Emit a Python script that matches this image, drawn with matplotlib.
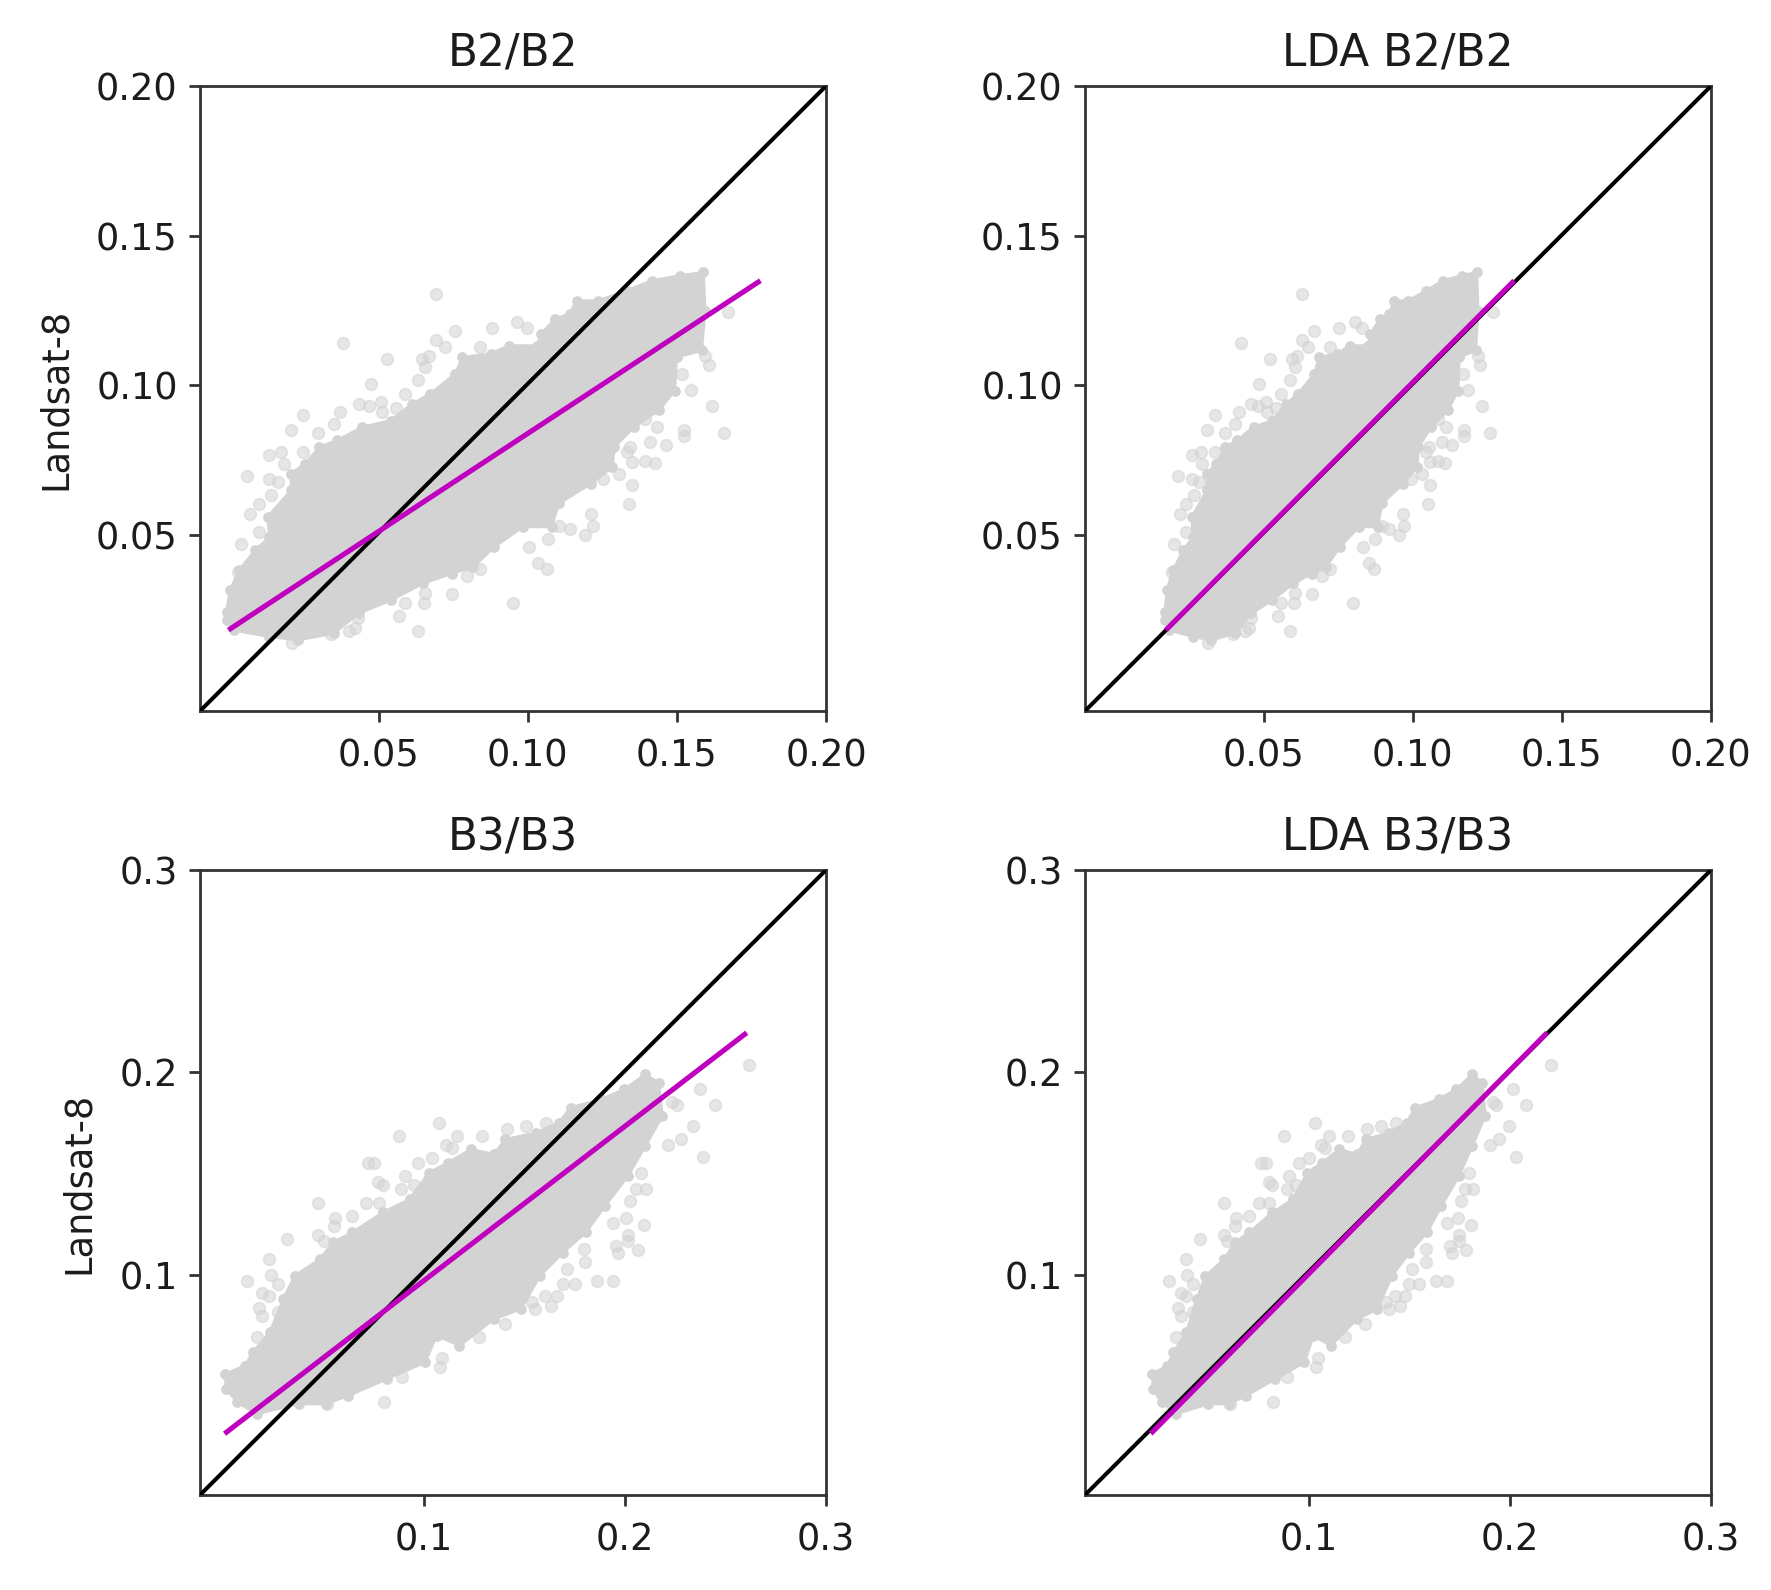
import matplotlib
matplotlib.use("Agg")
import matplotlib.pyplot as plt

# values: body of each grey cloud as an outline, stray points separately
b2_y_outline = [.0244,.0317,.0383,.0450,.0494,.0561,.0650,.0706,.0739,.0794,.0817,.0861,.0883,.0939,.0972,.1039,.1094,.1106,.1133,.1133,.1172,.1222,.1239,.1283,.1283,.1317,.1350,.1367,.1378,.1250,.1117,.1094,.0983,.0917,.0861,.0794,.0728,.0672,.0606,.0528,.0528,.0461,.0394,.0372,.0339,.0283,.0239,.0172,.0150,.0161,.0183,.0217]
b2_x_outline = [-.0010,.0002,.0032,.0086,.0134,.0128,.0206,.0206,.0254,.0301,.0361,.0445,.0541,.0613,.0673,.0757,.0781,.0876,.0936,.1032,.1044,.1092,.1140,.1164,.1236,.1332,.1416,.1511,.1589,.1595,.1583,.1499,.1493,.1440,.1356,.1290,.1284,.1212,.1104,.1080,.0984,.0888,.0817,.0745,.0649,.0541,.0433,.0349,.0230,.0134,.0014,-.0010]
lda2_x_outline = [.0169,.0176,.0196,.0231,.0263,.0259,.0310,.0310,.0341,.0372,.0412,.0466,.0529,.0576,.0615,.0670,.0686,.0748,.0788,.0850,.0858,.0890,.0921,.0937,.0984,.1046,.1101,.1164,.1215,.1219,.1211,.1156,.1152,.1117,.1062,.1019,.1015,.0968,.0897,.0882,.0819,.0756,.0709,.0662,.0600,.0529,.0459,.0404,.0325,.0263,.0184,.0169]

b2_y_stray = [.1306,.1141,.1089,.1182,.1192,.1212,.1192,.1152,.1130,.1089,.1100,.1061,.1006,.1017,.0972,.0939,.0933,.0944,.0913,.0903,.0852,.0911,.0926,.0872,.0841,.0778,.0768,.0739,.0778,.0697,.0687,.0677,.0633,.0603,.0572,.0511,.0470,.0378,.1128,
              .1067,.0933,.0841,.1244,.1100,.1037,.0986,.0850,.0830,.0800,.0811,.0861,.0889,.0794,.0778,.0744,.0748,.0741,.0703,.0687,.0666,.0603,.0572,.0531,.0500,.0522,.0530,.0489,.0459,.0408,.0386,.0272,.0386,.0364,.0303,.0272,.0306,.0272,.0231,.0180,.0222,.0189,.0180,.0170,.0141]
b2_x_stray = [.0692,.0381,.0527,.0755,.0880,.0963,.0999,.0692,.0723,.0644,.0670,.0655,.0475,.0631,.0587,.0433,.0466,.0508,.0370,.0245,.0206,.0511,.0557,.0349,.0298,.0173,.0131,.0182,.0248,.0060,.0131,.0163,.0140,.0100,.0069,.0100,.0038,.0028,.0839,
              .1608,.1618,.1658,.1672,.1595,.1518,.1546,.1524,.1524,.1464,.1410,.1434,.1392,.1344,.1332,.1350,.1392,.1426,.1306,.1251,.1348,.1338,.1212,.1218,.1191,.1141,.1105,.1069,.1005,.1036,.1063,.0952,.0839,.0797,.0745,.0652,.0655,.0587,.0568,.0631,.0430,.0422,.0400,.0340,.0208]
lda2_x_stray = [.0628,.0424,.0520,.0669,.0751,.0805,.0829,.0628,.0648,.0596,.0613,.0604,.0486,.0588,.0559,.0459,.0480,.0507,.0417,.0336,.0310,.0510,.0540,.0404,.0370,.0289,.0261,.0294,.0337,.0214,.0261,.0282,.0267,.0241,.0220,.0241,.0200,.0194,.0723,
                .1227,.1233,.1260,.1268,.1219,.1168,.1186,.1172,.1172,.1133,.1098,.1113,.1086,.1055,.1046,.1059,.1086,.1108,.1030,.0993,.1057,.1051,.0968,.0972,.0954,.0921,.0898,.0874,.0833,.0853,.0870,.0798,.0723,.0696,.0663,.0602,.0604,.0559,.0547,.0588,.0457,.0451,.0437,.0398,.0312]

b3_y_outline = [.0510,.0551,.0617,.0716,.0880,.0995,.1077,.1160,.1209,.1308,.1373,.1505,.1554,.1620,.1595,.1669,.1702,.1752,.1826,.1867,.1916,.1990,.1949,.1784,.1636,.1488,.1340,.1209,.1110,.0995,.0831,.0781,.0650,.0699,.0567,.0485,.0403,.0362,.0362,.0313,.0370,.0436]
b3_x_outline = [.0013,.0112,.0150,.0235,.0302,.0359,.0483,.0550,.0645,.0797,.0930,.1026,.1121,.1235,.1349,.1406,.1559,.1673,.1730,.1882,.1997,.2101,.2168,.2187,.2101,.2016,.1901,.1806,.1692,.1578,.1483,.1349,.1178,.1064,.1007,.0816,.0626,.0512,.0378,.0169,.0074,.0017]
lda3_x_outline = [.0223,.0298,.0327,.0392,.0443,.0487,.0581,.0632,.0704,.0820,.0921,.0994,.1066,.1153,.1240,.1284,.1400,.1487,.1530,.1646,.1733,.1813,.1863,.1878,.1813,.1747,.1660,.1588,.1501,.1414,.1342,.1240,.1110,.1023,.0979,.0834,.0690,.0603,.0501,.0342,.0269,.0226]

b3_y_stray = [.1748,.1687,.1687,.1687,.1719,.1733,.1748,.1643,.1628,.1551,.1551,.1551,.1579,.1488,.1459,.1444,.1444,.1423,.1354,.1354,.1354,.1283,.1291,.1242,.1179,.1196,.1168,.1077,.1000,.0970,.0954,.0910,.0896,.0834,.0817,.0798,.0694,
              .2039,.1919,.1840,.1840,.1853,.1735,.1643,.1673,.1582,.1505,.1423,.1423,.1365,.1283,.1258,.1245,.1196,.1168,.1140,.1107,.1123,.1127,.1061,.1031,.0954,.0954,.0970,.0970,.0896,.0896,.0847,.0864,.0831,.0757,.0694,.0587,.0543,.0494,.0373,.0362]
b3_x_stray = [.1077,.0875,.1168,.1292,.1416,.1507,.1606,.1111,.1140,.0721,.0753,.0972,.1039,.0908,.0772,.0797,.0953,.0889,.0477,.0711,.0778,.0559,.0645,.0553,.0321,.0477,.0502,.0230,.0241,.0121,.0277,.0197,.0230,.0182,.0277,.0197,.0169,
              .2619,.2372,.2450,.2259,.2235,.2339,.2216,.2278,.2387,.2082,.2054,.2107,.2025,.2006,.1940,.2096,.2016,.2016,.1955,.1968,.2063,.1797,.1802,.1711,.1692,.1753,.1863,.1940,.1663,.1601,.1631,.1540,.1555,.1403,.1273,.1092,.1079,.0892,.0801,.0521]
lda3_x_stray = [.1033,.0879,.1103,.1197,.1291,.1360,.1436,.1059,.1081,.0762,.0787,.0953,.1004,.0904,.0801,.0820,.0939,.0890,.0577,.0755,.0805,.0639,.0704,.0635,.0458,.0577,.0595,.0388,.0397,.0306,.0424,.0364,.0388,.0352,.0424,.0364,.0342,
                .2207,.2018,.2078,.1933,.1914,.1994,.1899,.1947,.2030,.1798,.1776,.1817,.1755,.1740,.1689,.1808,.1747,.1747,.1701,.1711,.1784,.1581,.1585,.1515,.1501,.1547,.1631,.1689,.1479,.1431,.1455,.1385,.1397,.1281,.1182,.1045,.1034,.0892,.0823,.0610]

# fitted lines
b2_fit_x = [-.0004, .1780]
b2_fit_y = [.0183, .1350]
lda2_fit_x = [.0172, .1340]
b3_fit_x = [.0010, .2606]
b3_fit_y = [.0215, .2196]
lda3_fit_x = [.0215, .2185]

ticks_top = [0.05, 0.10, 0.15, 0.20]
tick_labels_top = ["0.05", "0.10", "0.15", "0.20"]
ticks_bottom = [0.1, 0.2, 0.3]
tick_labels_bottom = ["0.1", "0.2", "0.3"]

W, H = 1771, 1590
SPINE = "#333333"
TEXT = "#1c1c1c"


def panel(left, top, title, x_out, y_out, x_stray, y_stray, fit_x, fit_y,
          ticks, labels, xlim, ylim, ylabel=None, labelpad=4):
    ax = plt.gcf().add_axes([left / W, 1 - (top + 625) / H, 626 / W, 625 / H])

    ax.fill(x_out, y_out, facecolor="lightgray", edgecolor="lightgray",
            linewidth=2, joinstyle="round", zorder=1)
    # outline points get a marker too, the cloud edge is lumpy
    ax.scatter(x_out, y_out, s=60, c="lightgray", linewidths=0, zorder=1)
    ax.scatter(x_stray, y_stray, s=72, c="lightgray", alpha=0.55, linewidths=1.2, zorder=2)
    ax.plot([xlim[0], xlim[1]], [ylim[0], ylim[1]], color="k", lw=2.9, zorder=3)
    ax.plot(fit_x, fit_y, color="m", lw=3.7, zorder=4, solid_capstyle="butt")

    ax.set_xlim(xlim)
    ax.set_ylim(ylim)
    ax.set_xticks(ticks)
    ax.set_xticklabels(labels)
    ax.set_yticks(ticks)
    ax.set_yticklabels(labels)
    ax.tick_params(length=8, width=2, labelsize=26.5, color=SPINE, labelcolor=TEXT)
    ax.tick_params(axis="x", pad=11)
    ax.tick_params(axis="y", pad=8)
    for s in ax.spines.values():
        s.set_linewidth(2)
        s.set_color(SPINE)
    ax.set_title(title, fontsize=31.5, pad=14, color=TEXT)
    if ylabel:
        ax.set_ylabel(ylabel, fontsize=26.5, color=TEXT, labelpad=labelpad)
    return ax


fig = plt.figure(figsize=(W / 100, H / 100), dpi=100)

lim_top = ((-0.0099, 0.2), (-0.0087, 0.2))
lim_bottom = ((-0.0112, 0.3), (-0.0088, 0.3))

panel(200, 86, "B2/B2", b2_x_outline, b2_y_outline, b2_x_stray, b2_y_stray,
      b2_fit_x, b2_fit_y, ticks_top, tick_labels_top, lim_top[0], lim_top[1], "Landsat-8", 16)
panel(1085, 86, "LDA B2/B2", lda2_x_outline, b2_y_outline, lda2_x_stray, b2_y_stray,
      lda2_fit_x, b2_fit_y, ticks_top, tick_labels_top, lim_top[0], lim_top[1])
panel(200, 870, "B3/B3", b3_x_outline, b3_y_outline, b3_x_stray, b3_y_stray,
      b3_fit_x, b3_fit_y, ticks_bottom, tick_labels_bottom, lim_bottom[0], lim_bottom[1], "Landsat-8", 16)
panel(1085, 870, "LDA B3/B3", lda3_x_outline, b3_y_outline, lda3_x_stray, b3_y_stray,
      lda3_fit_x, b3_fit_y, ticks_bottom, tick_labels_bottom, lim_bottom[0], lim_bottom[1])

fig.savefig("out.png", dpi=100)
